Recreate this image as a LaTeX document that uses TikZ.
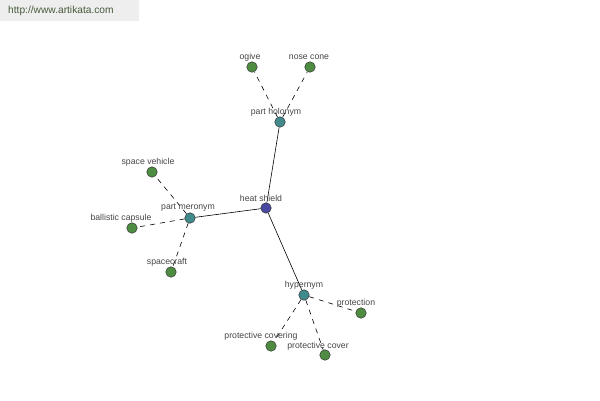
\documentclass[tikz,border=0pt]{standalone}
\usepackage{fontspec}
\setmainfont{Liberation Sans}
\usetikzlibrary{backgrounds}
\definecolor{leafc}{RGB}{78,140,66}
\definecolor{midc}{RGB}{64,138,140}
\definecolor{rootc}{RGB}{72,72,160}
\definecolor{lblc}{RGB}{70,70,70}
\definecolor{hdrc}{RGB}{238,238,238}
\definecolor{urlc}{RGB}{70,90,60}
\begin{document}
\begin{tikzpicture}[x=1pt,y=-1pt,
  dot/.style={circle,draw=black!80,line width=0.5pt,minimum size=10.5pt,inner sep=0pt},
  leaf/.style={dot,fill=leafc},
  mid/.style={dot,fill=midc},
  root/.style={dot,fill=rootc},
  lbl/.style={font=\fontsize{8.7}{10}\selectfont,text=lblc,inner sep=0pt},
  solidedge/.style={draw=black,line width=0.6pt},
  dashedge/.style={draw=black,line width=0.6pt,dash pattern=on 5pt off 5pt}]
\useasboundingbox (0,0) rectangle (600,400);
% nodes
\node[root] (hs) at (266,208) {};
\node[mid] (ph) at (280,122) {};
\node[leaf] (og) at (252,67) {};
\node[leaf] (nc) at (310,67) {};
\node[mid] (pm) at (190,218) {};
\node[leaf] (sv) at (152,172) {};
\node[leaf] (bc) at (132,228) {};
\node[leaf] (sc) at (171,272) {};
\node[mid] (hy) at (304,295) {};
\node[leaf] (pr) at (361,313) {};
\node[leaf] (pcg) at (271,346) {};
\node[leaf] (pcv) at (325,355) {};
% labels
\node[lbl] (lhs) at (261,198) {heat shield};
\node[lbl] (lph) at (276,112) {part holonym};
\node[lbl] (log) at (250,57) {ogive};
\node[lbl] (lnc) at (309,57) {nose cone};
\node[lbl] (lpm) at (188,208) {part meronym};
\node[lbl] (lsv) at (148,162) {space vehicle};
\node[lbl] (lbc) at (121,218) {ballistic capsule};
\node[lbl] (lsc) at (167,262) {spacecraft};
\node[lbl] (lhy) at (304,285) {hypernym};
\node[lbl] (lpr) at (356,303) {protection};
\node[lbl] (lpcg) at (261,336) {protective covering};
\node[lbl] (lpcv) at (318,346) {protective cover};
% edges
\begin{scope}[on background layer]
\fill[white] (0,0) rectangle (600,400);
\fill[hdrc] (0,0) rectangle (139,21);
\node[anchor=west,inner sep=0pt,font=\fontsize{10.2}{12}\selectfont,text=urlc] (url) at (8,11) {http://www.artikata.com};
\path[solidedge] (hs) -- (ph);
\path[solidedge] (hs) -- (pm);
\path[solidedge] (hs) -- (hy);
\path[dashedge] (ph) -- (og);
\path[dashedge] (ph) -- (nc);
\path[dashedge] (pm) -- (sv);
\path[dashedge] (pm) -- (bc);
\path[dashedge] (pm) -- (sc);
\path[dashedge] (hy) -- (pr);
\path[dashedge] (hy) -- (pcg);
\path[dashedge] (hy) -- (pcv);
\end{scope}
\end{tikzpicture}
\end{document}
